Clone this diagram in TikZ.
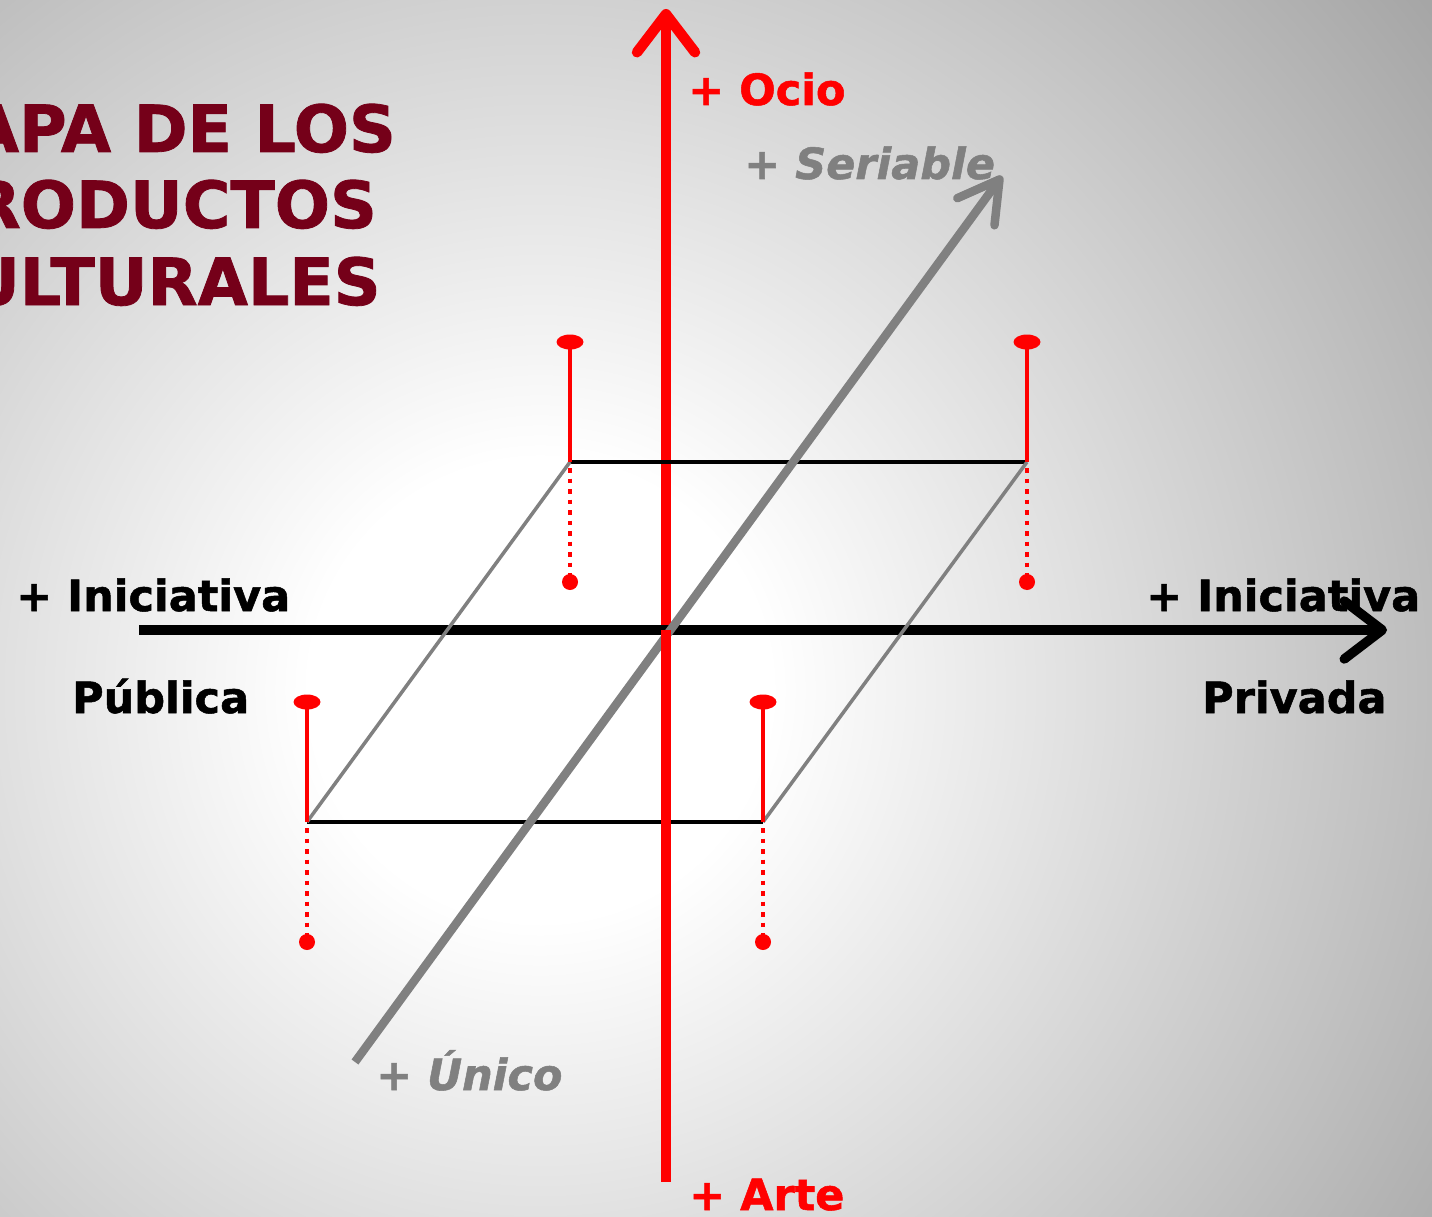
\documentclass[tikz,border=0pt]{standalone}
\usepackage{fontspec}
\setmainfont{DejaVu Sans}[BoldFeatures={FakeBold=1.2}, BoldItalicFeatures={FakeBold=1.2}]
\usetikzlibrary{arrows.meta}
\definecolor{mapared}{RGB}{117,0,25}
\pgfdeclareradialshading{fondo}{\pgfpoint{0bp}{0bp}}{color(0bp)=(white); color(5bp)=(white); color(25bp)=(black!36); color(50bp)=(black!36)}
\def\pinpost(#1,#2){%
	\draw[red, line width=4.8pt] (#1,#2) -- (#1,#2-120);
	\fill[red] (#1,#2-120) ellipse (13.5pt and 7.5pt);
	\draw[red, line width=4.8pt, dash pattern=on 4.5pt off 6pt] (#1,#2+6) -- (#1,#2+114);
	\fill[red] (#1,#2+120) circle (8pt);}

\begin{document}
\begin{tikzpicture}[x=1pt, y=-1pt,
	barb/.style={-{Straight Barb[length=38pt, width=58pt, round]}},
	lab/.style={inner sep=0pt, anchor=base west, font=\fontsize{43}{50}\selectfont\bfseries},
	titlab/.style={inner sep=0pt, anchor=base, color=mapared, font=\fontsize{65}{76}\selectfont\bfseries}]
			%%%%% START %%%%%
			
			\useasboundingbox (0,0) rectangle (1432,1217);
			\clip (0,0) rectangle (1432,1217);
			\shade[shading=fondo] (540,690) circle (1150pt);
			
			% eje rojo, mitad de arriba
			\draw[red, line width=10.5pt, barb] (666,630) -- (666,9);
			
			% eje negro
			\draw[line width=9.5pt, barb] (139,630) -- (1387,630);
			
			% paralelogramo
			\draw[line width=4.5pt] (570,462) -- (1027,462);
			\draw[line width=4.5pt] (307,822) -- (763,822);
			\draw[gray, line width=3.5pt] (570,462) -- (307,822);
			\draw[gray, line width=3.5pt] (1027,462) -- (763,822);
			
			% eje gris
			\draw[gray, line width=8.5pt, -{Straight Barb[length=40pt, width=46pt, round]}] (355,1062) -- (1002,176);
			
			% eje rojo, mitad de abajo
			\draw[red, line width=10.5pt] (666,630) -- (666,1182);
			
			\pinpost(570,462)
			\pinpost(1027,462)
			\pinpost(307,822)
			\pinpost(763,822)
			
			\node[titlab] (titulo1) at (150,152) {MAPA DE LOS};
			\node[titlab] (titulo2) at (150,228) {PRODUCTOS};
			\node[titlab] (titulo3) at (150,305) {CULTURALES};
			
			\node[lab, red] (ocio) at (688,105) {+ Ocio};
			\node[lab, gray, font=\fontsize{43}{50}\selectfont\bfseries\itshape] (seriable) at (744,179) {+ Seriable};
			\node[lab] (inipub) at (16,611) {+ Iniciativa};
			\node[lab] (publica) at (72,713) {Pública};
			\node[lab] (inipriv) at (1146,611) {+ Iniciativa};
			\node[lab] (privada) at (1202,713) {Privada};
			\node[lab, gray, font=\fontsize{43}{50}\selectfont\bfseries\itshape] (unico) at (376,1090) {+ Único};
			\node[lab, red] (arte) at (689,1210) {+ Arte};
			
			%%%%% END %%%%%
\end{tikzpicture}
\end{document}
